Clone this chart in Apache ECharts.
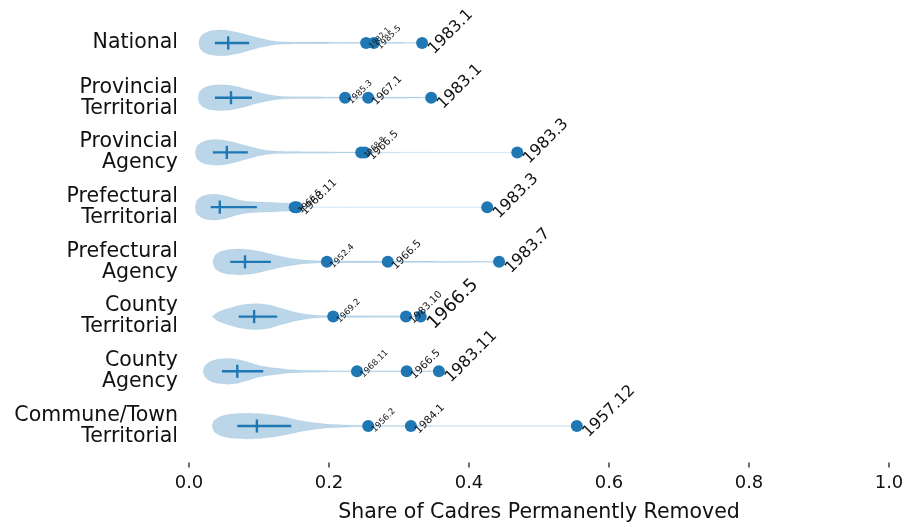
<!DOCTYPE html>
<html>
<head>
<meta charset="utf-8">
<script src="https://cdn.jsdelivr.net/npm/echarts@6/dist/echarts.min.js"></script>
<style>html,body{margin:0;padding:0;background:#fff;}#c{width:906px;height:527px;}</style>
</head>
<body>
<div id="c"></div>
<script>
const categories = ['National', 'Provincial\nTerritorial', 'Provincial\nAgency', 'Prefectural\nTerritorial',
  'Prefectural\nAgency', 'County\nTerritorial', 'County\nAgency', 'Commune/Town\nTerritorial'];

// violin outlines: [share, relative half-width]
const violinNational = [[0.014,0],[0.016,0.45],[0.022,0.75],[0.03,0.92],[0.042,1.0],[0.055,0.97],[0.07,0.82],[0.085,0.6],[0.1,0.38],[0.115,0.2],[0.13,0.1],[0.16,0.07],[0.2,0.06],[0.253,0.05],[0.333,0.03]];
const violinProvTerr = [[0.013,0],[0.015,0.45],[0.021,0.75],[0.03,0.93],[0.044,1.0],[0.058,0.96],[0.073,0.8],[0.088,0.58],[0.103,0.36],[0.118,0.19],[0.133,0.1],[0.16,0.07],[0.223,0.05],[0.256,0.045],[0.346,0.03]];
const violinProvAgency = [[0.009,0],[0.011,0.45],[0.017,0.75],[0.025,0.93],[0.037,1.0],[0.05,0.95],[0.065,0.78],[0.08,0.55],[0.095,0.33],[0.11,0.17],[0.125,0.09],[0.16,0.06],[0.251,0.04],[0.3,0.02],[0.469,0.015]];
const violinPrefTerr = [[0.009,0],[0.011,0.5],[0.018,0.82],[0.028,0.98],[0.04,1.0],[0.052,0.88],[0.065,0.66],[0.08,0.47],[0.1,0.39],[0.125,0.35],[0.145,0.31],[0.156,0.2],[0.165,0.03],[0.25,0.015],[0.426,0.015]];
const violinPrefAgency = [[0.034,0],[0.037,0.5],[0.045,0.8],[0.058,0.96],[0.073,1.0],[0.088,0.94],[0.105,0.76],[0.125,0.5],[0.145,0.28],[0.165,0.14],[0.185,0.08],[0.284,0.06],[0.443,0.03]];
const violinCountyTerr = [[0.033,0],[0.04,0.3],[0.055,0.62],[0.07,0.85],[0.085,0.98],[0.1,1.0],[0.115,0.9],[0.13,0.66],[0.15,0.36],[0.17,0.16],[0.19,0.08],[0.31,0.05],[0.33,0.04]];
const violinCountyAgency = [[0.02,0],[0.023,0.45],[0.03,0.75],[0.04,0.93],[0.055,1.0],[0.07,0.92],[0.085,0.7],[0.1,0.45],[0.12,0.27],[0.14,0.15],[0.17,0.08],[0.2,0.05],[0.311,0.04],[0.357,0.03]];
const violinCommune = [[0.033,0],[0.036,0.45],[0.045,0.75],[0.06,0.93],[0.08,1.0],[0.1,0.97],[0.12,0.85],[0.14,0.65],[0.16,0.42],[0.18,0.25],[0.2,0.14],[0.23,0.07],[0.3,0.04],[0.4,0.02],[0.554,0.015]];
const violins = [violinNational, violinProvTerr, violinProvAgency, violinPrefTerr,
  violinPrefAgency, violinCountyTerr, violinCountyAgency, violinCommune];

// cross markers
const medians   = [0.056, 0.060, 0.054, 0.044, 0.080, 0.093, 0.069, 0.097];
const spreadLow = [0.037, 0.037, 0.034, 0.031, 0.059, 0.071, 0.047, 0.069];
const spreadHigh= [0.086, 0.090, 0.084, 0.097, 0.117, 0.126, 0.106, 0.146];

// top three periods per row
const peakShares = [
  [0.253, 0.264, 0.333],
  [0.223, 0.256, 0.346],
  [0.246, 0.251, 0.469],
  [0.151, 0.154, 0.426],
  [0.197, 0.284, 0.443],
  [0.206, 0.310, 0.331],
  [0.240, 0.311, 0.357],
  [0.256, 0.317, 0.554]
];
const peakLabels = [
  ['1982.1', '1985.5', '1983.1'],
  ['1985.3', '1967.1', '1983.1'],
  ['1968.8', '1966.5', '1983.3'],
  ['1966.5', '1968.11', '1983.3'],
  ['1952.4', '1966.5', '1983.7'],
  ['1969.2', '1983.10', '1966.5'],
  ['1968.11', '1966.5', '1983.11'],
  ['1956.2', '1984.1', '1957.12']
];
const peakLabelSizes = [
  [7.5, 8.5, 16],
  [8.5, 10.5, 16],
  [7.5, 10.5, 16],
  [8.5, 11, 16],
  [8.5, 10.5, 16],
  [8.5, 10, 18],
  [8.5, 10.5, 16],
  [8.5, 10.5, 16]
];

const xTicks = [0, 0.2, 0.4, 0.6, 0.8, 1.0];

const BLUE = '#1f77b4';
const FONT = 'DejaVu Sans';
const SYM = 12;
const LAST = categories.length - 1;

const violinData = categories.map((c, i) => [medians[i], i]);
const scatterData = [];
peakShares.forEach((row, i) => {
  row.forEach((v, j) => {
    const s = peakLabelSizes[i][j];
    const d = SYM / 2 + s * 0.2;
    scatterData.push({
      value: [v, i],
      label: { formatter: peakLabels[i][j], fontSize: s, position: [d, d] }
    });
  });
});

const chart = echarts.init(document.getElementById('c'), null, { renderer: 'canvas' });
chart.setOption({
  animation: false,
  grid: { left: 189, right: 17, top: 15.6, bottom: 73.6, containLabel: false, outerBoundsMode: 'none' },
  xAxis: {
    type: 'value', min: 0, max: 1, interval: 0.2, offset: 9,
    axisLine: { show: false },
    axisTick: { show: false },
    splitLine: { show: false },
    axisLabel: { formatter: v => v.toFixed(1), fontSize: 18, color: '#111', fontFamily: FONT, margin: 12 },
    name: 'Share of Cadres Permanently Removed', nameLocation: 'middle', nameGap: 40,
    nameTextStyle: { fontSize: 20.5, color: '#111', fontFamily: FONT }
  },
  yAxis: {
    type: 'category', data: categories, inverse: true,
    axisLine: { show: false }, axisTick: { show: false }, splitLine: { show: false },
    axisLabel: { fontSize: 20.5, lineHeight: 21, color: '#111', fontFamily: FONT, margin: 11, align: 'right' }
  },
  series: [
    {
      type: 'custom',
      coordinateSystem: 'cartesian2d',
      encode: { x: 0, y: 1 },
      data: violinData,
      clip: false,
      z: 2,
      renderItem: function (params, api) {
        const idx = Number(params.dataIndex);
        const band = api.size([0, 1])[1];
        const maxHalf = 0.235 * band;
        const prof = violins[idx];
        const top = [], bot = [];
        prof.forEach(p => {
          const c = api.coord([p[0], idx]);
          top.push([c[0], c[1] - p[1] * maxHalf]);
          bot.push([c[0], c[1] + p[1] * maxHalf]);
        });
        const pts = top.concat(bot.reverse());
        const m = api.coord([medians[idx], idx]);
        const lo = api.coord([spreadLow[idx], idx]);
        const hi = api.coord([spreadHigh[idx], idx]);
        const vh = 0.12 * band;
        const children = [
          { type: 'polygon', shape: { points: pts, smooth: 0.15 }, style: { fill: 'rgba(31,119,180,0.3)', stroke: 'rgba(31,119,180,0.12)', lineWidth: 0.6 } },
          { type: 'line', shape: { x1: lo[0], y1: lo[1], x2: hi[0], y2: hi[1] }, style: { stroke: BLUE, lineWidth: 2.4 } },
          { type: 'line', shape: { x1: m[0], y1: m[1] - vh, x2: m[0], y2: m[1] + vh }, style: { stroke: BLUE, lineWidth: 2.4 } }
        ];
        if (idx === LAST) {
          // x-axis tick marks below the hidden axis line
          xTicks.forEach(t => {
            const c = api.coord([t, LAST]);
            const y0 = c[1] + band / 2 + 9;
            children.push({ type: 'rect', shape: { x: c[0] - 0.7, y: y0, width: 1.4, height: 5 }, style: { fill: '#333' } });
          });
        }
        return { type: 'group', children: children };
      }
    },
    {
      type: 'scatter',
      data: scatterData,
      symbolSize: SYM,
      z: 3,
      itemStyle: { color: BLUE, opacity: 1 },
      label: {
        show: true, rotate: 45, align: 'left', verticalAlign: 'top',
        color: '#111', fontFamily: FONT
      },
      labelLayout: { hideOverlap: false }
    }
  ]
});
</script>
</body>
</html>
